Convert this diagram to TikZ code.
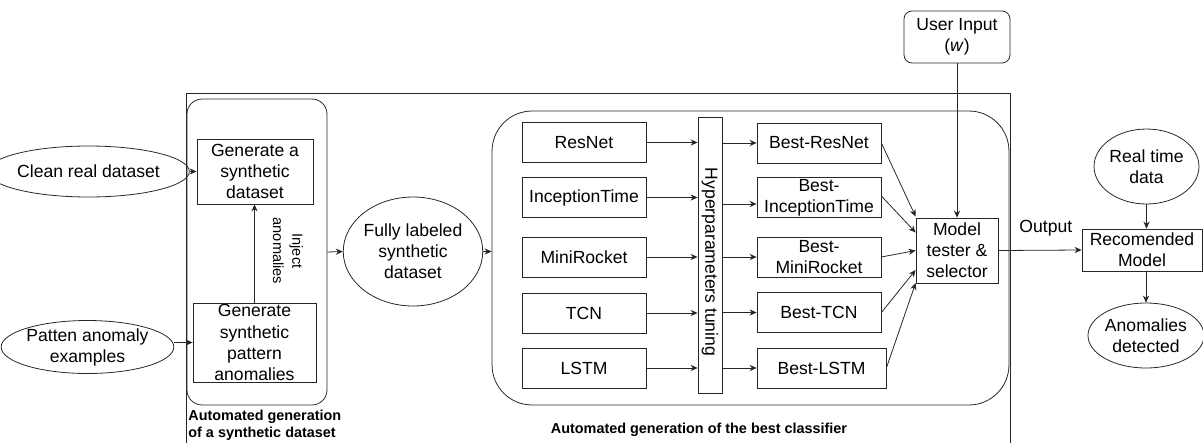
\documentclass[tikz,border=0pt]{standalone}
\usepackage{fontspec}
\setmainfont{Liberation Sans}
\usetikzlibrary{shapes.geometric,arrows.meta,calc}

\begin{document}
\begin{tikzpicture}[x=0.02cm,y=-0.02cm,line width=0.45pt,color=black!85,
  every node/.style={font=\fontsize{10}{12}\selectfont, text=black, align=center, inner sep=0pt},
  blk/.style={draw, rectangle},
  oval/.style={draw, ellipse},
  grp/.style={draw, rectangle},
  model/.style={blk, minimum width=2.48cm, minimum height=0.8cm},
  capt/.style={font=\fontsize{8.2}{9.6}\selectfont\bfseries, align=left},
  small/.style={font=\fontsize{8.3}{11}\selectfont},
  arr/.style={-{Stealth[length=4pt,width=3.5pt]}}
]
\useasboundingbox (0,0) rectangle (1203,443);

% outer frame (open at the bottom)
\draw (186,443) -- (186,93) -- (1010,93) -- (1010,443);

% --- synthetic dataset generation ---
\node[grp, rounded corners=0.3cm, minimum width=2.8cm, minimum height=6.12cm] (grpA) at (257,252) {};
\node[capt, anchor=north west] (capA) at (188,410) {Automated generation\\of a synthetic dataset};

\node[oval, minimum width=3.18cm, minimum height=1.02cm] (clean) at (88.5,171.5) {Clean real dataset};
\node[oval, minimum width=3.14cm, minimum height=1.06cm] (patt) at (87.5,347) {Patten anomaly\\examples};
\node[blk, minimum width=2.32cm, minimum height=1.30cm] (gen1) at (255,171.5) {Generate a\\synthetic\\dataset};
\node[blk, minimum width=2.46cm, minimum height=1.58cm,
      label={[name=gen2txt]center:Generate\\synthetic\\pattern\\anomalies}] (gen2) at (254.5,342.5) {};

\draw[arr] (clean.east) -- (gen1.west);
\draw[arr] (patt.east |- gen2.west) -- (gen2.west);
\draw[arr] (gen2.north) -- (gen2.north |- gen1.south);
\node[small, rotate=-90] (inject) at (288,251) {Inject\\anomalies};

\node[oval, minimum width=2.48cm, minimum height=2.18cm] (full) at (413,251.5) {Fully labeled\\synthetic\\dataset};
\draw[arr] (grpA.east) -- (full.west);

% --- classifier generation ---
\node[grp, rounded corners=0.8cm, minimum width=10.34cm, minimum height=5.88cm] (grpB) at (750.5,258) {};
\node[capt] (capB) at (699,430) {Automated generation of the best classifier};
\draw[arr] (full.east) -- (full.east -| grpB.west);

\node[model] (resnet) at (584,142.5) {ResNet};
\node[model] (incep)  at (584,197.5) {InceptionTime};
\node[model] (mini)   at (584,257)   {MiniRocket};
\node[model] (tcn)    at (584,313)   {TCN};
\node[model] (lstm)   at (584,368)   {LSTM};

\node[blk, minimum width=0.48cm, minimum height=5.52cm] (bar) at (710,255) {};
\node[rotate=-90] (bartxt) at (710,262) {Hyperparameters tuning};

\foreach \m in {resnet,incep,mini,tcn,lstm}
  \draw[arr] (\m.east) -- (\m.east -| bar.west);

\node[model] (bres) at (819,143) {Best-ResNet};
\node[model, label={[name=binctxt]center:Best-\\InceptionTime}] (binc) at (819,197.5) {};
\node[model, label={[name=bminitxt]center:Best-\\MiniRocket}] (bmini) at (819,257) {};
\node[model] (btcn) at (819,312.5) {Best-TCN};
\node[model, minimum width=2.58cm] (blstm) at (821.5,368) {Best-LSTM};

\draw[arr] (bar.east |- bres.west) -- (bres.west);
\draw[arr] ([yshift=-0.13cm]binc.west -| bar.east) -- ([yshift=-0.13cm]binc.west);
\draw[arr] (bar.east |- bmini.west) -- (bmini.west);
\draw[arr] (bar.east |- btcn.west) -- (btcn.west);
\draw[arr] (bar.east |- blstm.west) -- (blstm.west);

\node[blk, minimum width=1.64cm, minimum height=1.30cm] (tester) at (957,250.5) {Model\\tester \&\\selector};

\draw[arr] (bres.east)  -- ([yshift=0.68cm]tester.west);
\draw[arr] ([yshift=0.03cm]binc.east) -- ([yshift=0.36cm]tester.west);
\draw[arr] (bmini.east) -- (tester.west);
\draw[arr] (btcn.east)  -- ([yshift=-0.39cm]tester.west);
\draw[arr] (blstm.east) -- ([yshift=-0.65cm]tester.west);

\node[blk, rounded corners=0.16cm, minimum width=2.12cm, minimum height=1.04cm] (user) at (957,37) {User Input\\(\textit{w})};
\draw[arr] (user.south) -- (tester.north);

% --- deployment ---
\node[blk, minimum width=2.40cm, minimum height=0.84cm] (rec) at (1142,250) {Recomended\\Model};
\draw[arr] (tester.east) -- node[pos=0.57, yshift=0.44cm] (outlbl) {Output} (rec.west);

\node[oval, minimum width=2.02cm, minimum height=1.50cm] (real) at (1146.5,166.5) {Real time\\data};
\node[oval, minimum width=2.08cm, minimum height=1.30cm] (anom) at (1146,335.5) {Anomalies\\detected};
\draw[arr] (real.south) -- (real.south |- rec.north);
\draw[arr] (rec.south -| anom.north) -- (anom.north);
\end{tikzpicture}
\end{document}
